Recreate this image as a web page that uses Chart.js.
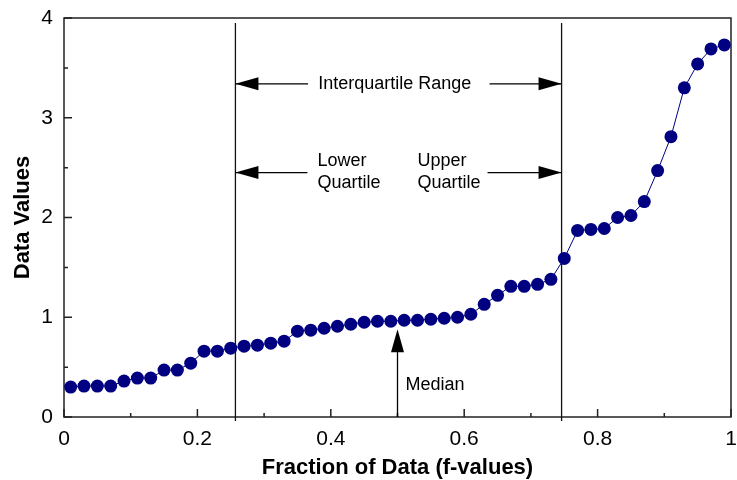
<!DOCTYPE html>
<html>
<head>
<meta charset="utf-8">
<script src="https://cdn.jsdelivr.net/npm/chart.js@4.4.1/dist/chart.umd.min.js"></script>
<style>
  html, body { margin: 0; padding: 0; background: #fff; }
  #wrap { width: 737px; height: 480px; }
</style>
</head>
<body>
<div id="wrap"><canvas id="myChart" width="737" height="480"></canvas></div>
<script>
// data
const fractions = [0.01, 0.03, 0.05, 0.07, 0.09, 0.11, 0.13, 0.15, 0.17, 0.19,
                   0.21, 0.23, 0.25, 0.27, 0.29, 0.31, 0.33, 0.35, 0.37, 0.39,
                   0.41, 0.43, 0.45, 0.47, 0.49, 0.51, 0.53, 0.55, 0.57, 0.59,
                   0.61, 0.63, 0.65, 0.67, 0.69, 0.71, 0.73, 0.75, 0.77, 0.79,
                   0.81, 0.83, 0.85, 0.87, 0.89, 0.91, 0.93, 0.95, 0.97, 0.99];
const dataValues = [0.30, 0.31, 0.31, 0.31, 0.36, 0.39, 0.39, 0.47, 0.47, 0.54,
                    0.66, 0.66, 0.69, 0.71, 0.72, 0.74, 0.76, 0.86, 0.87, 0.89,
                    0.91, 0.93, 0.95, 0.96, 0.96, 0.97, 0.97, 0.98, 0.99, 1.00,
                    1.03, 1.13, 1.22, 1.31, 1.31, 1.33, 1.38, 1.59, 1.87, 1.88,
                    1.89, 2.00, 2.02, 2.16, 2.47, 2.81, 3.30, 3.54, 3.69, 3.73];
const xTickLabels = ['0', '0.2', '0.4', '0.6', '0.8', '1'];
const xMinorTicks = [0.1, 0.3, 0.5, 0.7, 0.9];
const yMinorTicks = [0.5, 1.5, 2.5, 3.5];

// annotations
const quartileX = [0.257, 0.746];
const quartileLineY = [-0.04, 3.95];
const medianX = 0.5;
const medianTipY = 0.88;
const rangeArrowY = 3.34;
const rangeArrowEnds = [0.366, 0.638];
const quartArrowY = 2.45;
const quartArrowEnds = [0.365, 0.635];

const ctx = document.getElementById('myChart');
const navy = '#000080';
const font = 'Liberation Sans, Arial, sans-serif';

function arrowHead(c, x, y, dx, dy) {
  // tip at (x,y), pointing along (dx,dy)
  const len = 23, half = 6.5;
  const px = -dy, py = dx;
  c.beginPath();
  c.moveTo(x, y);
  c.lineTo(x - dx * len + px * half, y - dy * len + py * half);
  c.lineTo(x - dx * len - px * half, y - dy * len - py * half);
  c.closePath();
  c.fill();
}

const frameAndNotes = {
  id: 'frameAndNotes',
  beforeDatasetsDraw(chart) {
    const c = chart.ctx;
    const a = chart.chartArea;
    const x = chart.scales.x, y = chart.scales.y;
    c.save();
    c.strokeStyle = '#222';
    c.lineWidth = 1.5;
    c.strokeRect(a.left, a.top, a.right - a.left, a.bottom - a.top);

    // inward tick marks
    c.beginPath();
    x.ticks.forEach(t => {
      const px = x.getPixelForValue(t.value);
      c.moveTo(px, a.bottom); c.lineTo(px, a.bottom - 8);
    });
    xMinorTicks.forEach(v => {
      const px = x.getPixelForValue(v);
      c.moveTo(px, a.bottom); c.lineTo(px, a.bottom - 4);
    });
    y.ticks.forEach(t => {
      const py = y.getPixelForValue(t.value);
      c.moveTo(a.left, py); c.lineTo(a.left + 8, py);
    });
    yMinorTicks.forEach(v => {
      const py = y.getPixelForValue(v);
      c.moveTo(a.left, py); c.lineTo(a.left + 4, py);
    });
    c.stroke();

    // quartile lines
    c.strokeStyle = '#111';
    c.lineWidth = 1.3;
    c.beginPath();
    quartileX.forEach(q => {
      const px = x.getPixelForValue(q);
      c.moveTo(px, y.getPixelForValue(quartileLineY[0]));
      c.lineTo(px, y.getPixelForValue(quartileLineY[1]));
    });
    c.stroke();

    // horizontal arrows
    c.fillStyle = '#000';
    c.strokeStyle = '#000';
    c.lineWidth = 1.3;
    const qL = x.getPixelForValue(quartileX[0]);
    const qR = x.getPixelForValue(quartileX[1]);
    [[rangeArrowY, rangeArrowEnds], [quartArrowY, quartArrowEnds]].forEach(([yy, ends]) => {
      const py = y.getPixelForValue(yy);
      c.beginPath();
      c.moveTo(qL, py); c.lineTo(x.getPixelForValue(ends[0]), py);
      c.moveTo(x.getPixelForValue(ends[1]), py); c.lineTo(qR, py);
      c.stroke();
      arrowHead(c, qL, py, -1, 0);
      arrowHead(c, qR, py, 1, 0);
    });

    // median arrow
    const mx = x.getPixelForValue(medianX);
    const tip = y.getPixelForValue(medianTipY);
    c.beginPath();
    c.moveTo(mx, a.bottom); c.lineTo(mx, tip + 10);
    c.stroke();
    arrowHead(c, mx, tip, 0, -1);

    // texts
    c.font = '18px ' + font;
    c.textBaseline = 'middle';
    c.textAlign = 'center';
    c.fillText('Interquartile Range', x.getPixelForValue(0.496), y.getPixelForValue(rangeArrowY));
    c.textAlign = 'left';
    c.fillText('Lower', x.getPixelForValue(0.38), y.getPixelForValue(2.57));
    c.fillText('Quartile', x.getPixelForValue(0.38), y.getPixelForValue(2.345));
    c.fillText('Upper', x.getPixelForValue(0.53), y.getPixelForValue(2.57));
    c.fillText('Quartile', x.getPixelForValue(0.53), y.getPixelForValue(2.345));
    c.fillText('Median', x.getPixelForValue(0.512), y.getPixelForValue(0.32));
    c.restore();
  }
};

const points = fractions.map((f, i) => ({ x: f, y: dataValues[i] }));

const config = {
  type: 'scatter',
  data: {
    datasets: [{
      data: points,
      showLine: true,
      borderColor: navy,
      borderWidth: 1,
      pointRadius: 6.5,
      pointBackgroundColor: navy,
      pointBorderWidth: 0
    }]
  },
  options: {
    responsive: false,
    animation: false,
    devicePixelRatio: 1,
    layout: { autoPadding: false, padding: { top: 18, right: 6, left: 0, bottom: 0 } },
    plugins: { legend: { display: false }, tooltip: { enabled: false } },
    scales: {
      x: {
        type: 'linear',
        min: 0, max: 1,
        border: { display: false },
        grid: { display: false, drawTicks: false },
        ticks: {
          stepSize: 0.2,
          padding: 10,
          color: '#000',
          font: { family: font, size: 21 },
          maxRotation: 0,
          callback: (v, i) => xTickLabels[i]
        },
        title: {
          display: true,
          text: 'Fraction of Data (f-values)',
          color: '#000',
          font: { family: font, size: 22, weight: 'bold' },
          padding: { top: 0, bottom: -1 }
        },
        afterFit: s => { s.height = 63; s.paddingLeft = 0; s.paddingRight = 0; }
      },
      y: {
        type: 'linear',
        min: 0, max: 4,
        border: { display: false },
        grid: { display: false, drawTicks: false },
        ticks: {
          stepSize: 1,
          padding: 11,
          color: '#000',
          font: { family: font, size: 21 }
        },
        title: {
          display: true,
          text: 'Data Values',
          color: '#000',
          font: { family: font, size: 22, weight: 'bold' },
          padding: { top: 10, bottom: 0 }
        },
        afterFit: s => { s.width = 64; s.paddingTop = 0; s.paddingBottom = 0; }
      }
    }
  },
  plugins: [frameAndNotes]
};

const myChart = new Chart(ctx, config);
</script>
</body>
</html>
